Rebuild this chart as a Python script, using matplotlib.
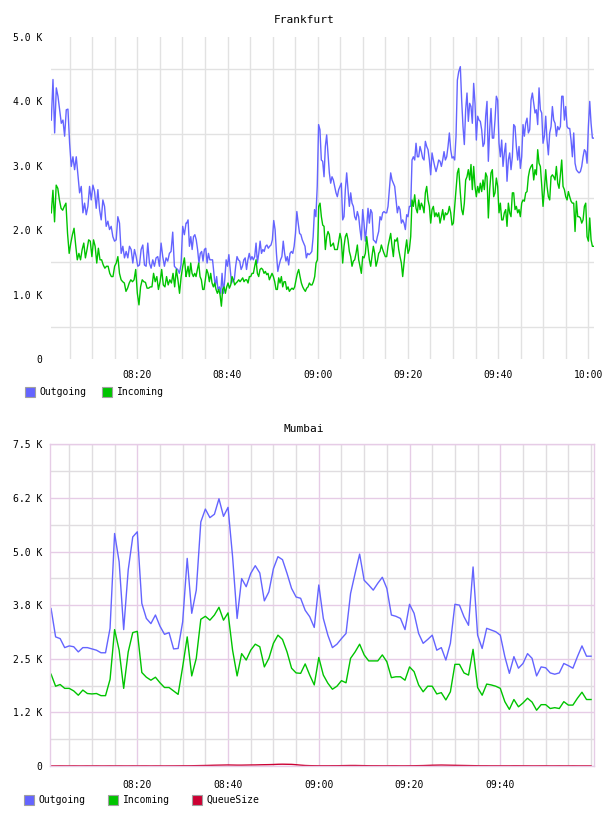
import numpy as np
import matplotlib.pyplot as plt
from matplotlib.patches import Rectangle

W, H = 608, 816
MONO = 'DejaVu Sans Mono'
plt.rcParams['font.family'] = MONO

fra_spans = [(0.93, 30.80), (30.95, 61.40), (61.69, 91.26), (91.62, 121.2)]

fra_out_1 = [3.71, 4.34, 3.51, 4.21, 4.08, 3.87, 3.66, 3.71, 3.46, 3.87, 3.88, 3.35, 2.99, 3.14, 2.94,
             3.14, 2.86, 2.58, 2.68, 2.27, 2.42, 2.24, 2.37, 2.68, 2.47, 2.70, 2.60, 2.34, 2.63, 2.32,
             2.16, 2.47, 2.37, 2.06, 2.14, 2.01, 2.06, 1.90, 1.83, 1.85, 2.21, 2.11, 1.64, 1.75, 1.57,
             1.67, 1.57, 1.75, 1.70, 1.49, 1.70, 1.59, 1.44, 1.46, 1.70, 1.77, 1.46, 1.44, 1.80, 1.49,
             1.41, 1.54, 1.44, 1.57, 1.59, 1.44, 1.80, 1.59, 1.44, 1.57, 1.52, 1.64, 1.67, 1.97, 1.44,
             1.41, 1.39, 1.33, 1.46, 2.06, 1.93, 2.11]
fra_in_1 = [2.27, 2.62, 2.13, 2.70, 2.65, 2.47, 2.34, 2.31, 2.37, 2.42, 1.95, 1.64, 1.80, 1.93, 2.03,
            1.77, 1.54, 1.64, 1.54, 1.70, 1.80, 1.57, 1.70, 1.85, 1.83, 1.59, 1.85, 1.75, 1.49, 1.72,
            1.54, 1.54, 1.46, 1.41, 1.44, 1.44, 1.33, 1.28, 1.28, 1.44, 1.49, 1.59, 1.33, 1.23, 1.20,
            1.18, 1.05, 1.10, 1.18, 1.23, 1.20, 1.23, 1.39, 1.02, 0.84, 1.12, 1.23, 1.20, 1.19, 1.10,
            1.10, 1.12, 1.12, 1.33, 1.20, 1.28, 1.08, 1.20, 1.39, 1.15, 1.12, 1.28, 1.15, 1.23, 1.18,
            1.33, 1.12, 1.39, 1.23, 1.02, 1.28, 1.44, 1.57, 1.28]

fra_out_2 = [2.11, 2.16, 1.75, 1.90, 1.70, 1.90, 1.93, 1.85, 1.70, 1.49, 1.64, 1.67, 1.52, 1.70, 1.72,
             1.49, 1.64, 1.54, 1.54, 1.54, 1.33, 1.12, 1.28, 1.08, 1.12, 1.02, 1.33, 1.02, 1.23, 1.54,
             1.44, 1.62, 1.39, 1.18, 1.23, 1.23, 1.44, 1.59, 1.54, 1.52, 1.39, 1.44, 1.54, 1.57, 1.39,
             1.54, 1.64, 1.54, 1.59, 1.54, 1.59, 1.80, 1.49, 1.64, 1.83, 1.64, 1.70, 1.67, 1.75, 1.77,
             1.72, 1.75, 1.77, 1.85, 2.15, 2.01, 1.64, 1.36, 1.46, 1.54, 1.59, 1.83, 1.64, 1.52, 1.59,
             1.46, 1.64, 1.67, 1.64, 1.75, 1.95, 2.29, 2.11, 1.95, 1.93, 1.85, 1.80, 1.75, 1.57, 1.64,
             1.62, 1.64, 1.67, 1.90, 2.32, 2.21, 2.68, 3.64, 3.56, 3.09, 3.07, 2.83]
fra_in_2 = [1.33, 1.44, 1.28, 1.49, 1.33, 1.28, 1.33, 1.28, 1.39, 1.49, 1.28, 1.23, 1.08, 1.08, 1.23,
            1.39, 1.33, 1.20, 1.33, 1.18, 1.12, 1.18, 1.08, 1.02, 1.08, 1.00, 0.82, 1.08, 1.12, 1.02,
            1.12, 1.18, 1.10, 1.15, 1.28, 1.23, 1.15, 1.18, 1.20, 1.23, 1.20, 1.23, 1.26, 1.20, 1.23,
            1.23, 1.18, 1.28, 1.28, 1.33, 1.33, 1.44, 1.54, 1.33, 1.28, 1.39, 1.41, 1.39, 1.33, 1.36,
            1.31, 1.33, 1.23, 1.28, 1.33, 1.28, 1.20, 1.08, 1.08, 1.26, 1.18, 1.28, 1.12, 1.20, 1.20,
            1.08, 1.12, 1.05, 1.08, 1.10, 1.08, 1.12, 1.23, 1.33, 1.39, 1.28, 1.18, 1.12, 1.08, 1.05,
            1.10, 1.12, 1.18, 1.15, 1.15, 1.20, 1.28, 1.49, 1.54, 2.37, 2.42, 2.21, 2.08, 2.06]

fra_out_3 = [3.30, 3.48, 3.19, 2.89, 2.73, 2.83, 2.78, 2.68, 2.58, 2.52, 2.63, 2.68, 2.73, 2.16, 2.21,
             2.63, 2.89, 2.63, 2.37, 2.58, 2.42, 2.37, 2.21, 2.16, 2.29, 2.21, 2.01, 1.85, 2.32, 2.11,
             1.83, 2.06, 2.34, 2.11, 2.32, 2.27, 1.85, 1.83, 1.80, 1.90, 1.98, 2.21, 2.16, 2.27, 2.29,
             2.27, 2.27, 2.37, 2.63, 2.89, 2.78, 2.73, 2.68, 2.47, 2.27, 2.37, 2.32, 2.11, 2.16, 2.11,
             2.01, 2.24, 2.21, 2.37, 2.37, 3.09, 3.14, 3.09, 3.35, 3.14, 3.14, 3.30, 3.22, 3.12, 3.09,
             3.38, 3.30, 3.25, 3.09, 2.86, 3.20, 3.09, 2.99, 2.91, 2.99, 3.09, 3.07, 2.99, 3.09, 3.22,
             3.09, 3.14, 3.30, 3.51, 3.25, 3.12, 3.14, 3.09, 3.46, 4.33, 4.46]
fra_in_3 = [1.70, 1.90, 1.98, 1.93, 1.75, 1.77, 1.80, 1.70, 1.70, 1.70, 1.83, 1.95, 1.85, 1.49, 1.75,
            1.90, 1.95, 1.85, 1.67, 1.59, 1.44, 1.52, 1.54, 1.64, 1.77, 1.54, 1.44, 1.33, 1.59, 1.57,
            1.64, 1.90, 1.72, 1.54, 1.44, 1.59, 1.75, 1.64, 1.44, 1.52, 1.64, 1.67, 1.77, 1.70, 1.64,
            1.59, 1.59, 1.75, 1.85, 1.95, 1.75, 1.59, 1.85, 1.83, 1.88, 1.70, 1.59, 1.49, 1.28, 1.49,
            1.70, 1.85, 1.64, 1.70, 1.90, 2.47, 2.37, 2.55, 2.34, 2.27, 2.47, 2.32, 2.42, 2.37, 2.27,
            2.58, 2.68, 2.47, 2.37, 2.11, 2.32, 2.37, 2.21, 2.27, 2.21, 2.27, 2.11, 2.21, 2.32, 2.16,
            2.27, 2.24, 2.27, 2.37, 2.27, 2.08, 2.11, 2.37, 2.63, 2.89, 2.96]

fra_out_4 = [4.54, 4.02, 3.61, 3.33, 3.87, 4.13, 3.69, 3.97, 3.92, 3.66, 4.28, 3.97, 3.40, 3.77, 3.71,
             3.69, 3.56, 3.30, 3.35, 3.77, 4.00, 3.07, 3.56, 3.89, 3.43, 3.43, 3.71, 4.08, 4.02, 3.35,
             3.14, 3.40, 2.99, 3.20, 3.35, 2.76, 3.09, 3.20, 2.94, 3.14, 3.64, 3.61, 3.30, 3.09, 3.30,
             2.96, 3.14, 3.64, 3.46, 3.66, 3.74, 3.51, 3.56, 4.02, 4.13, 3.97, 3.82, 3.87, 3.64, 4.21,
             3.87, 3.82, 3.35, 3.46, 3.77, 3.40, 3.17, 3.51, 3.61, 3.92, 3.71, 3.66, 3.46, 3.61, 3.56,
             3.61, 4.08, 4.08, 3.71, 3.92, 3.61, 3.58, 3.58, 3.40, 3.14, 3.51, 3.04, 2.94, 2.91, 2.89,
             2.91, 2.99, 3.14, 3.25, 3.22, 3.04, 3.61, 4.00, 3.66, 3.43, 3.43]
fra_in_4 = [2.58, 2.32, 2.24, 2.42, 2.78, 2.83, 2.94, 2.78, 3.02, 2.63, 2.99, 2.68, 2.52, 2.68, 2.58,
            2.73, 2.60, 2.78, 2.63, 2.89, 2.83, 2.19, 2.63, 2.89, 2.94, 2.52, 2.58, 2.81, 2.68, 2.27,
            2.42, 2.16, 2.16, 2.27, 2.32, 2.06, 2.42, 2.27, 2.21, 2.58, 2.58, 2.32, 2.37, 2.27, 2.32,
            2.21, 2.42, 2.47, 2.45, 2.58, 2.60, 2.83, 2.94, 2.99, 3.02, 2.78, 2.94, 2.86, 3.25, 3.04,
            2.99, 2.70, 2.37, 2.63, 2.94, 2.68, 2.52, 2.47, 2.83, 2.86, 2.83, 2.78, 2.99, 2.73, 2.65,
            2.86, 3.09, 2.68, 2.63, 2.52, 2.47, 2.60, 2.52, 2.45, 2.42, 2.42, 1.98, 2.45, 2.21, 2.21,
            2.19, 2.11, 2.16, 2.37, 2.42, 1.90, 1.83, 2.19, 1.85, 1.75, 1.75]

# ---- Mumbai (K), one sample per minute, 08:01 .. 10:00
mum_minutes = np.arange(1, 121)
mum_out = [3.67, 3.01, 2.97, 2.76, 2.80, 2.78, 2.66, 2.76, 2.76, 2.73, 2.70, 2.64, 2.64, 3.21, 5.42,
           4.76, 3.18, 4.57, 5.34, 5.46, 3.79, 3.44, 3.32, 3.52, 3.26, 3.07, 3.11, 2.73, 2.74, 3.36,
           4.84, 3.56, 4.10, 5.69, 5.99, 5.79, 5.87, 6.23, 5.82, 6.03, 4.88, 3.44, 4.37, 4.18, 4.49,
           4.67, 4.50, 3.85, 4.06, 4.60, 4.88, 4.81, 4.49, 4.14, 3.94, 3.91,
           3.63, 3.48, 3.23, 4.22, 3.44, 3.05, 2.76, 2.84, 2.97, 3.09, 4.02, 4.49, 4.94, 4.33, 4.22,
           4.10, 4.26, 4.40, 4.14, 3.52, 3.49, 3.44, 3.18, 3.77, 3.56, 3.09, 2.86, 2.95, 3.05, 2.70,
           2.76, 2.47, 2.86, 3.77, 3.75, 3.48, 3.28, 4.64, 3.05, 2.74, 3.21, 3.17, 3.13, 3.05, 2.55,
           2.16, 2.55, 2.28, 2.39, 2.62, 2.51, 2.10, 2.31, 2.29, 2.17, 2.14, 2.17, 2.39, 2.34, 2.28,
           2.55, 2.80, 2.56, 2.56]
mum_in = [2.14, 1.86, 1.90, 1.81, 1.81, 1.75, 1.65, 1.77, 1.69, 1.68, 1.69, 1.64, 1.64, 2.02, 3.18,
          2.70, 1.81, 2.66, 3.11, 3.14, 2.18, 2.07, 2.00, 2.07, 1.94, 1.83, 1.83, 1.75, 1.67, 2.31,
          3.01, 2.10, 2.51, 3.42, 3.49, 3.40, 3.52, 3.70, 3.40, 3.57, 2.70, 2.10, 2.62, 2.47, 2.70,
          2.84, 2.78, 2.31, 2.51, 2.86, 3.05, 2.95, 2.66, 2.28, 2.17, 2.16,
          2.38, 2.12, 1.89, 2.53, 2.12, 1.93, 1.79, 1.86, 1.99, 1.94, 2.51, 2.66, 2.84, 2.59, 2.45,
          2.45, 2.45, 2.59, 2.43, 2.06, 2.08, 2.08, 2.00, 2.31, 2.20, 1.89, 1.73, 1.86, 1.86, 1.68,
          1.71, 1.54, 1.73, 2.37, 2.37, 2.17, 2.12, 2.72, 1.83, 1.65, 1.91, 1.89, 1.86, 1.81, 1.50,
          1.32, 1.55, 1.38, 1.47, 1.58, 1.49, 1.30, 1.43, 1.43, 1.34, 1.36, 1.34, 1.50, 1.42, 1.42,
          1.58, 1.72, 1.55, 1.55]
mum_queue = [2, 2, 3, 2, 2, 3, 2, 2, 3, 2, 3, 2, 2, 3, 2, 3, 2, 2, 3, 2,
             3, 3, 2, 3, 3, 2, 3, 3, 4, 5, 5, 6, 8, 10, 12, 15,
             18, 20, 22, 24, 22, 20, 20, 22, 24, 25, 28, 30, 32, 35,
             40, 42, 40, 38, 30, 20, 12, 8, 6, 5,
             5, 5, 6, 6, 8, 10, 12, 12, 10, 8, 6, 5, 5, 4, 4, 5, 5, 4, 4, 5,
             6, 8, 10, 14, 18, 20, 22, 20, 18, 16, 14, 12, 10, 8, 6, 5, 5, 4, 4, 4,
             4, 4, 5, 5, 4, 4, 3, 3, 4, 4, 3, 3, 4, 3, 3, 4, 3, 3, 3, 3]

fra_ticks = [20, 40, 60, 80, 100, 120]
fra_ticklabels = ['08:20', '08:40', '09:00', '09:20', '09:40', '10:00']
mum_ticks = [20, 40, 60, 80, 100]
mum_ticklabels = ['08:20', '08:40', '09:00', '09:20', '09:40']
fra_yticks = [0, 1, 2, 3, 4, 5]
fra_ylabels = ['0', '1.0 K', '2.0 K', '3.0 K', '4.0 K', '5.0 K']
mum_yticks = [0, 1.25, 2.5, 3.75, 5.0, 6.25, 7.5]
mum_ylabels = ['0', '1.2 K', '2.5 K', '3.8 K', '5.0 K', '6.2 K', '7.5 K']

C_OUT = '#6464ff'
C_IN = '#00c400'
C_Q = '#cc0033'


def fra_series(parts):
    t = [np.linspace(a, b, len(p)) for (a, b), p in zip(fra_spans, parts)]
    return np.concatenate(t), np.concatenate(parts)


def px_axes(left, top, right, bottom):
    return fig.add_axes([left / W, 1 - bottom / H, (right - left) / W, (bottom - top) / H])


def legend(y, items):
    for x, color, label in items:
        fig.add_artist(Rectangle((x / W, 1 - (y + 5) / H), 10 / W, 10 / H,
                                 transform=fig.transFigure, facecolor=color,
                                 edgecolor='#a0a0a0', lw=0.8))
        fig.text((x + 14.5) / W, 1 - y / H, label, fontsize=7, va='center', ha='left')


fig = plt.figure(figsize=(W / 100, H / 100), dpi=100)

# ---- Frankfurt
ax = px_axes(51, 37, 594, 359)
t_out, v_out = fra_series([fra_out_1, fra_out_2, fra_out_3, fra_out_4])
t_in, v_in = fra_series([fra_in_1, fra_in_2, fra_in_3, fra_in_4])
ax.plot(t_out, v_out, color=C_OUT, lw=1.0)
ax.plot(t_in, v_in, color=C_IN, lw=1.0)
ax.set_xlim(0.86, 121.26)
ax.set_ylim(0, 5)
ax.set_xticks(fra_ticks)
ax.set_xticklabels(fra_ticklabels)
ax.set_xticks(np.arange(5, 121, 5), minor=True)
ax.set_yticks(fra_yticks)
ax.set_yticklabels(fra_ylabels)
ax.set_yticks(np.arange(0.5, 5, 1.0), minor=True)
ax.grid(True, which='both', axis='x', color='#e2e2e2', lw=1.0)
ax.grid(True, which='minor', axis='y', color='#e2e2e2', lw=1.0)
ax.set_axisbelow(True)
for s in ax.spines.values():
    s.set_visible(False)
ax.tick_params(which='both', length=0, labelsize=7)
ax.tick_params(axis='y', pad=6)
ax.tick_params(axis='x', pad=8)
fig.text(0.5, 1 - 20 / H, 'Frankfurt', ha='center', va='center', fontsize=8)
legend(392, [(24.5, C_OUT, 'Outgoing'), (102, C_IN, 'Incoming')])

# ---- Mumbai
ax2 = px_axes(50.3, 444.3, 594, 766)
ax2.plot(mum_minutes, mum_out, color=C_OUT, lw=1.0)
ax2.plot(mum_minutes, mum_in, color=C_IN, lw=1.0)
ax2.plot(mum_minutes, np.array(mum_queue) / 1000.0, color=C_Q, lw=1.0)
ax2.set_xlim(0.83, 120.65)
ax2.set_ylim(0, 7.5)
ax2.set_xticks(mum_ticks)
ax2.set_xticklabels(mum_ticklabels)
ax2.set_xticks([m for m in range(5, 121, 5) if m not in mum_ticks], minor=True)
ax2.set_yticks(mum_yticks)
ax2.set_yticklabels(mum_ylabels)
ax2.set_yticks(np.arange(0.625, 7.5, 1.25), minor=True)
ax2.grid(True, which='major', color='#e6cce6', lw=1.0)
ax2.grid(True, which='minor', color='#e0dde0', lw=1.0)
ax2.set_axisbelow(True)
for s in ax2.spines.values():
    s.set_color('#e6cce6')
    s.set_linewidth(1.0)
ax2.tick_params(which='both', length=0, labelsize=7)
ax2.tick_params(axis='y', pad=6)
ax2.tick_params(axis='x', pad=10)
fig.text(0.5, 1 - 429 / H, 'Mumbai', ha='center', va='center', fontsize=8)
legend(800, [(24, C_OUT, 'Outgoing'), (108.3, C_IN, 'Incoming'), (192.3, C_Q, 'QueueSize')])

fig.savefig('out.png', dpi=100, facecolor='white')
